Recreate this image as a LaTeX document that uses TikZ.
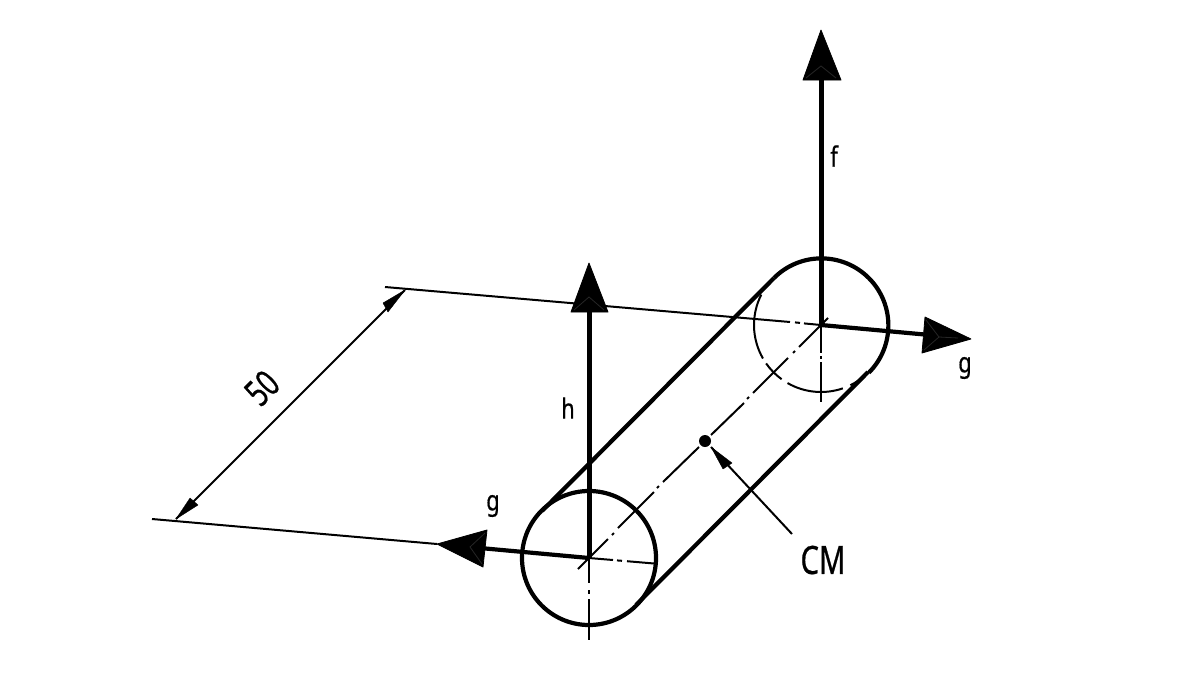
\documentclass[tikz,border=0pt]{standalone}
\usepackage{fontspec}
\setmainfont{Noto Sans}
\newfontfamily\labfont[FakeStretch=0.78,FakeBold=0.5]{Noto Sans}
\newfontfamily\bigfont[FakeStretch=0.75,FakeBold=0.6]{Noto Sans}
\newfontfamily\numfont[FakeStretch=0.72,FakeBold=0.6]{Noto Sans}
\begin{document}
\begin{tikzpicture}[x=1pt,y=-1pt,
  thickline/.style={line width=4.2pt,black},
  shaft/.style={line width=5pt,black},
  thinline/.style={line width=2pt,black},
  head/.style={fill=black,draw=black,line width=0.8pt,line join=round},
  smallhead/.style={fill=black,draw=black,line width=0.4pt,line join=round},
  chevron/.style={line width=0.8pt,black!85},
  lab/.style={inner sep=0pt,font=\labfont\fontsize{28pt}{28pt}\selectfont},
  biglab/.style={inner sep=0pt,font=\bigfont\fontsize{39pt}{39pt}\selectfont},
  numlab/.style={inner sep=0pt,font=\numfont\fontsize{37pt}{37pt}\selectfont},
]
\useasboundingbox (0,0) rectangle (1200,675);
\fill[white] (0,0) rectangle (1200,675);
% reference points
\coordinate (fc) at (589,558);
\coordinate (bc) at (821,325);
\coordinate (fT) at (542,511);
\coordinate (fB) at (636,605);
\coordinate (bT) at (774,278);
\coordinate (bB) at (868,372);
\coordinate (ftip) at (821,30);
\coordinate (htip) at (589,263);
\coordinate (grtip) at (971,339);
\coordinate (gltip) at (437,544);
\coordinate (ext1) at (385,287);
\coordinate (ext2) at (152,519);
\coordinate (dim1) at (405,290);
\coordinate (dim2) at (176,519);
\coordinate (cmtail) at (792,534);
\coordinate (cmtip) at (711,447);
% centre lines and extension lines
\draw[thinline] (ext1) -- (790,322);
\draw[thinline] (795,322.4) -- (800,322.9);
\draw[thinline] (804,323.4) -- (bc);
\draw[thinline] (ext2) -- (gltip);
\draw[thinline] (fc) -- (613,560);
\draw[thinline] (617,560.4) -- (622,560.8);
\draw[thinline] (627,561.2) -- (654,563.5);
% axis
\draw[thinline] (578,569) -- (fc) -- (608,539) (612,535) -- (614,533) (618,528) -- (654,492)
  (657,488) -- (659,486) (663,482) -- (699,447) (711,435) -- (744,403) (747,399) -- (749,397)
  (753,393) -- (788,358) (793,353) -- (795,351) (799,347) -- (bc) -- (828,318);
% vertical centre lines
\draw[thinline] (fc) -- (589,583);
\draw[thinline] (589,590) -- (589,594);
\draw[thinline] (589,599) -- (589,640);
\draw[thinline] (bc) -- (821,353);
\draw[thinline] (821,356) -- (821,359);
\draw[thinline] (821,362) -- (821,402);
% cylinder
\draw[thickline] (fc) circle[radius=67];
\draw[thickline] (fT) -- (bT);
\draw[thickline] (fB) -- (bB);
\draw[thickline] (bT) arc[start angle=225,end angle=405,radius=67];
\draw[thinline] (bc) ++(207:67) arc[start angle=207,end angle=150,radius=67];
\draw[thinline] (bc) ++(145:67) arc[start angle=145,end angle=126,radius=67];
\draw[thinline] (bc) ++(120:67) arc[start angle=120,end angle=71,radius=67];
\draw[thinline] (bc) ++(64:67) arc[start angle=64,end angle=45,radius=67];
% forces
\draw[shaft] (bc) -- (821,70);
\draw[shaft] (fc) -- (589,300);
\draw[thickline] (bc) -- (930,335);
\draw[thickline] (fc) -- (480,548);
\fill[head] (ftip) -- (841,80) -- (803,80) -- cycle;
\draw[chevron] (806,78) -- (821,66) -- (836,78);
\fill[head] (htip) -- (608,312) -- (571,312) -- cycle;
\draw[chevron] (574,310) -- (589,297) -- (604,310);
\fill[head] (grtip) -- (925,317) -- (922,353) -- cycle;
\draw[chevron] (926,320) -- (939,337) -- (924,350);
\draw[chevron] (939,337) -- (958,338);
\fill[head] (gltip) -- (487,530) -- (483,567) -- cycle;
\draw[chevron] (485,533) -- (470,547) -- (482,564);
% dimension
\draw[thinline] (dim1) -- (dim2);
\fill[smallhead] (dim1) -- (383,303) -- (388,312) -- cycle;
\fill[smallhead] (dim2) -- (190,498) -- (198,505) -- cycle;
% CM
\fill (705,441) circle[radius=6];
\draw[thinline] (cmtail) -- (cmtip);
\fill[smallhead] (cmtip) -- (732,463) -- (723,469) -- cycle;
% labels
\node[lab] (lf) at (834,156) {f};
\node[lab] (lh) at (568,408) {h};
\node[lab] (lg1) at (965,368) {g};
\node[lab] (lg2) at (493,506) {g};
\node[biglab] (lcm) at (823,560) {CM};
\node[numlab,rotate=45] (l50) at (262,388) {50};
\end{tikzpicture}
\end{document}
